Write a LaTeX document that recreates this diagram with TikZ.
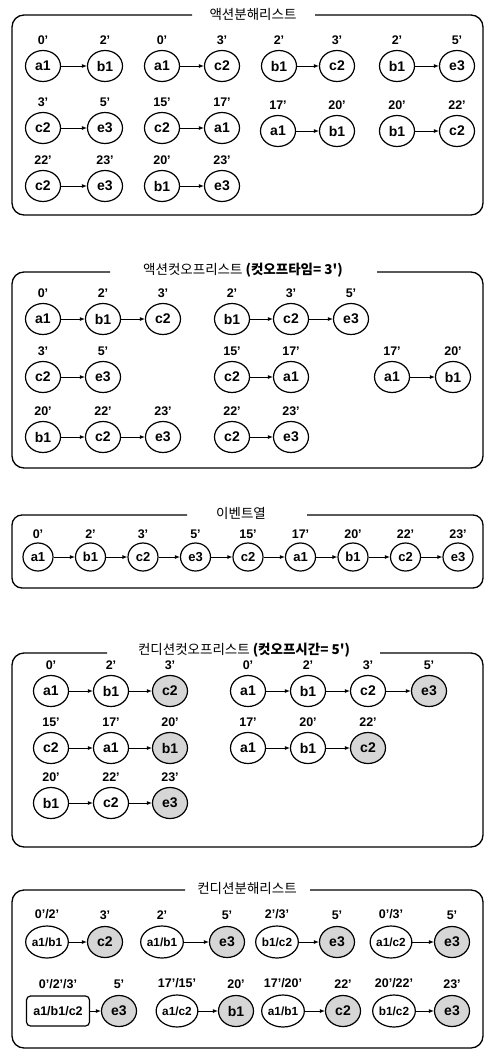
\documentclass[tikz,border=0pt]{standalone}
\usepackage{fontspec}
\setmainfont{Liberation Sans}
\newfontfamily\krfont{Noto Sans CJK KR}
\usetikzlibrary{shapes.geometric,arrows.meta}
\begin{document}
\begin{tikzpicture}[x=1pt,y=-1pt,
  ev/.style={ellipse,draw,line width=1.2pt,inner sep=0pt,minimum width=35pt,minimum height=31pt,font=\bfseries\fontsize{14}{14}\selectfont},
  evs/.style={ev,minimum width=30pt,minimum height=28pt,font=\bfseries\fontsize{13}{13}\selectfont},
  evc/.style={ev,minimum width=40pt,minimum height=32pt,font=\bfseries\fontsize{11.8}{11.8}\selectfont},
  evr/.style={rectangle,rounded corners=4pt,draw,line width=1.2pt,minimum width=63pt,minimum height=30pt,inner sep=0pt,font=\bfseries\fontsize{12.5}{12.5}\selectfont},
  shd/.style={fill=black!16},
  tm/.style={font=\bfseries\fontsize{12.5}{12.5}\selectfont,inner sep=0pt},
  tl/.style={label={[tm]above:{#1}}},
  arr/.style={-{Latex[length=5pt,width=4pt]},line width=0.9pt},
  frm/.style={line width=1.3pt,rounded corners=12pt},
  ttl/.style={font=\krfont\fontsize{13.5}{13.5}\selectfont,inner sep=0pt}
]
\useasboundingbox (0,0) rectangle (485,1052);

% ---------- Panel 1 ----------
\draw[frm] (192,15) -- (12,15) -- (12,215) -- (483,215) -- (483,15) -- (315,15);
\node[ttl] (t1) at (253,14) {액션분해리스트};
\begin{scope}[label distance=5pt]
\node[ev,tl={0'}] (n1) at (43,66) {a1};
\node[ev,tl={2'}] (n2) at (105,66) {b1};
\node[ev,tl={0'}] (n3) at (162,66) {a1};
\node[ev,tl={3'}] (n4) at (222,66) {c2};
\node[ev,tl={2'}] (n5) at (279,66) {b1};
\node[ev,tl={3'}] (n6) at (337,66) {c2};
\node[ev,tl={2'}] (n7) at (397,66) {b1};
\node[ev,tl={5'}] (n8) at (457,66) {e3};
\node[ev,tl={3'}] (n9) at (43,128) {c2};
\node[ev,tl={5'}] (n10) at (105,128) {e3};
\node[ev,tl={15'}] (n11) at (162,128) {c2};
\node[ev,tl={17'}] (n12) at (222,128) {a1};
\node[ev,tl={17'}] (n13) at (278,131) {a1};
\node[ev,tl={20'}] (n14) at (337,131) {b1};
\node[ev,tl={20'}] (n15) at (397,131) {b1};
\node[ev,tl={22'}] (n16) at (457,131) {c2};
\node[ev,tl={22'}] (n17) at (43,186) {c2};
\node[ev,tl={23'}] (n18) at (105,186) {e3};
\node[ev,tl={20'}] (n19) at (162,186) {b1};
\node[ev,tl={23'}] (n20) at (222,186) {e3};
\end{scope}
\foreach \a/\b in {n1/n2,n3/n4,n5/n6,n7/n8,n9/n10,n11/n12,n13/n14,n15/n16,n17/n18,n19/n20}
  \draw[arr] (\a) -- (\b);

% ---------- Panel 2 ----------
\draw[frm] (110,272) -- (12,272) -- (12,468) -- (483,468) -- (483,272) -- (377,272);
\node[ttl] (t2) at (243,270) {액션컷오프리스트 \textbf{(컷오프타임= 3')}};
\begin{scope}[label distance=5pt]
\node[ev,tl={0'}] (m1) at (43,319) {a1};
\node[ev,tl={2'}] (m2) at (103,319) {b1};
\node[ev,tl={3'}] (m3) at (163,319) {c2};
\node[ev,tl={2'}] (m4) at (232,319) {b1};
\node[ev,tl={3'}] (m5) at (291,319) {c2};
\node[ev,tl={5'}] (m6) at (351,319) {e3};
\node[ev,tl={3'}] (m7) at (43,377) {c2};
\node[ev,tl={5'}] (m8) at (103,377) {e3};
\node[ev,tl={15'}] (m9) at (232,377) {c2};
\node[ev,tl={17'}] (m10) at (291,377) {a1};
\node[ev,tl={17'}] (m11) at (392,377) {a1};
\node[ev,tl={20'}] (m12) at (453,377) {b1};
\node[ev,tl={20'}] (m13) at (43,437) {b1};
\node[ev,tl={22'}] (m14) at (103,437) {c2};
\node[ev,tl={23'}] (m15) at (163,437) {e3};
\node[ev,tl={22'}] (m16) at (232,437) {c2};
\node[ev,tl={23'}] (m17) at (291,437) {e3};
\end{scope}
\foreach \a/\b in {m1/m2,m2/m3,m4/m5,m5/m6,m7/m8,m9/m10,m11/m12,m13/m14,m14/m15,m16/m17}
  \draw[arr] (\a) -- (\b);

% ---------- Panel 3 ----------
\draw[frm,rounded corners=10pt] (187,515) -- (12,515) -- (12,588) -- (483,588) -- (483,515) -- (307,515);
\node[ttl] (t3) at (241,513) {이벤트열};
\begin{scope}[label distance=4pt]
\foreach \i/\n/\t in {0/a1/0',1/b1/2',2/c2/3',3/e3/5',4/c2/15',5/a1/17',6/b1/20',7/c2/22',8/e3/23'}
  \node[evs,tl={\t}] (q\i) at (38+52.5*\i,557) {\n};
\end{scope}
\foreach \a/\b in {q0/q1,q1/q2,q2/q3,q3/q4,q4/q5,q5/q6,q6/q7,q7/q8}
  \draw[arr] (\a) -- (\b);

% ---------- Panel 4 ----------
\draw[frm] (107,653) -- (12,653) -- (12,847) -- (483,847) -- (483,653) -- (380,653);
\node[ttl] (t4) at (244,650) {컨디션컷오프리스트 \textbf{(컷오프시간= 5')}};
\begin{scope}[label distance=5pt]
\node[ev,tl={0'}] (r1) at (51,691) {a1};
\node[ev,tl={2'}] (r2) at (111,691) {b1};
\node[ev,shd,tl={3'}] (r3) at (170,691) {c2};
\node[ev,tl={0'}] (r4) at (248,691) {a1};
\node[ev,tl={2'}] (r5) at (308,691) {b1};
\node[ev,tl={3'}] (r6) at (368,691) {c2};
\node[ev,shd,tl={5'}] (r7) at (429,691) {e3};
\node[ev,tl={15'}] (r8) at (51,748) {c2};
\node[ev,tl={17'}] (r9) at (111,748) {a1};
\node[ev,shd,tl={20'}] (r10) at (170,748) {b1};
\node[ev,tl={17'}] (r11) at (248,748) {a1};
\node[ev,tl={20'}] (r12) at (308,748) {b1};
\node[ev,shd,tl={22'}] (r13) at (368,748) {c2};
\node[ev,tl={20'}] (r14) at (51,803) {b1};
\node[ev,tl={22'}] (r15) at (111,803) {c2};
\node[ev,shd,tl={23'}] (r16) at (170,803) {e3};
\end{scope}
\foreach \a/\b in {r1/r2,r2/r3,r4/r5,r5/r6,r6/r7,r8/r9,r9/r10,r11/r12,r12/r13,r14/r15,r15/r16}
  \draw[arr] (\a) -- (\b);

% ---------- Panel 5 ----------
\draw[frm] (185,890) -- (12,890) -- (12,1048) -- (483,1048) -- (483,890) -- (310,890);
\node[ttl] (t5) at (247,888) {컨디션분해리스트};
\begin{scope}[label distance=6pt]
\node[evc,tl={0'/2'}] (s1) at (47,942) {a1/b1};
\node[ev,shd,tl={3'}] (s2) at (105,942) {c2};
\node[evc,tl={2'}] (s3) at (162,942) {a1/b1};
\node[ev,shd,tl={5'}] (s4) at (227,942) {e3};
\node[evc,tl={2'/3'}] (s5) at (277,942) {b1/c2};
\node[ev,shd,tl={5'}] (s6) at (337,942) {e3};
\node[evc,tl={0'/3'}] (s7) at (391,942) {a1/c2};
\node[ev,shd,tl={5'}] (s8) at (452,942) {e3};
\node[evr,tl={0'/2'/3'}] (s9) at (58,1011) {a1/b1/c2};
\node[ev,shd,tl={5'}] (s10) at (119,1011) {e3};
\node[evc,tl={17'/15'}] (s11) at (177,1011) {a1/c2};
\node[ev,shd,tl={20'}] (s12) at (236,1011) {b1};
\node[evc,tl={17'/20'}] (s13) at (283,1011) {a1/b1};
\node[ev,shd,tl={22'}] (s14) at (343,1011) {c2};
\node[evc,tl={20'/22'}] (s15) at (394,1011) {b1/c2};
\node[ev,shd,tl={23'}] (s16) at (452,1011) {e3};
\end{scope}
\foreach \a/\b in {s1/s2,s3/s4,s5/s6,s7/s8,s9/s10,s11/s12,s13/s14,s15/s16}
  \draw[arr] (\a) -- (\b);
\end{tikzpicture}
\end{document}
